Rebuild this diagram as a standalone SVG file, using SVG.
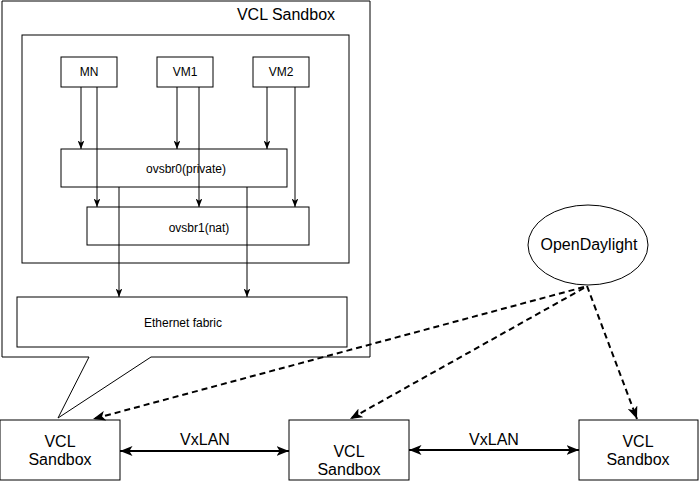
<svg xmlns="http://www.w3.org/2000/svg" width="699" height="490" viewBox="0 0 699 490">
<style>
.box{fill:#fff;stroke:#000;stroke-width:1}
.t{font-family:"Liberation Sans",Arial,sans-serif;fill:#000;text-anchor:middle}
.s12{font-size:12px}
.s16{font-size:16px}
.ln{fill:none;stroke:#000;stroke-width:1}
.bi{fill:none;stroke:#000;stroke-width:2}
.da{fill:none;stroke:#000;stroke-width:2;stroke-dasharray:6 4}
</style>
<defs>
<marker id="a1" viewBox="0 0 10 8" refX="10" refY="4" markerWidth="8.5" markerHeight="6.8" markerUnits="userSpaceOnUse" orient="auto-start-reverse">
<path d="M0,0 L10,4 L0,8 L2.5,4 Z" fill="#000" stroke="none"/>
</marker>
<marker id="a2" viewBox="0 0 10 8" refX="10" refY="4" markerWidth="12.5" markerHeight="10" markerUnits="userSpaceOnUse" orient="auto-start-reverse">
<path d="M0,0 L10,4 L0,8 L2.5,4 Z" fill="#000" stroke="none"/>
</marker>
</defs>
<rect width="699" height="490" fill="#fff"/>
<g id="callout">
<path class="box" d="M2,1 H370 V357 H151 L58,418 L89,357 H2 Z"/>
<text class="t s16" x="286" y="20">VCL Sandbox</text>
</g>
<g id="inner"><rect class="box" x="22" y="35" width="327" height="228"/></g>
<g id="mn"><rect class="box" x="61" y="57" width="56" height="30"/><text class="t s12" x="89" y="76">MN</text></g>
<g id="vm1"><rect class="box" x="157" y="57" width="56" height="30"/><text class="t s12" x="185" y="76">VM1</text></g>
<g id="vm2"><rect class="box" x="253" y="57" width="56" height="30"/><text class="t s12" x="281" y="76">VM2</text></g>
<g id="ovsbr0"><rect class="box" x="61" y="149" width="226" height="38"/><text class="t s12" x="186" y="173">ovsbr0(private)</text></g>
<g id="ovsbr1"><rect class="box" x="87" y="207" width="222" height="38"/><text class="t s12" x="199" y="232">ovsbr1(nat)</text></g>
<g id="eth"><rect class="box" x="17" y="297" width="330" height="50"/><text class="t s12" x="183" y="327">Ethernet fabric</text></g>
<g id="odl"><ellipse class="box" cx="588" cy="245" rx="60" ry="40"/><text class="t s16" x="589" y="250">OpenDaylight</text></g>
<g id="sb1"><rect class="box" x="0" y="420" width="120" height="60"/><text class="t s16" x="60" y="447">VCL</text><text class="t s16" x="60" y="465">Sandbox</text></g>
<g id="sb2"><rect class="box" x="289" y="420" width="120" height="60"/><text class="t s16" x="349" y="457">VCL</text><text class="t s16" x="349" y="475">Sandbox</text></g>
<g id="sb3"><rect class="box" x="579" y="420" width="119" height="60"/><text class="t s16" x="638" y="447">VCL</text><text class="t s16" x="638" y="465">Sandbox</text></g>
<g id="connectors">
<line class="ln" x1="81" y1="87" x2="81" y2="149" marker-end="url(#a1)"/>
<line class="ln" x1="97" y1="87" x2="97" y2="207" marker-end="url(#a1)"/>
<line class="ln" x1="177" y1="87" x2="177" y2="149" marker-end="url(#a1)"/>
<line class="ln" x1="199" y1="87" x2="199" y2="207" marker-end="url(#a1)"/>
<line class="ln" x1="267" y1="87" x2="267" y2="149" marker-end="url(#a1)"/>
<line class="ln" x1="295" y1="87" x2="295" y2="207" marker-end="url(#a1)"/>
<line class="ln" x1="119" y1="187" x2="119" y2="297" marker-end="url(#a1)"/>
<line class="ln" x1="247" y1="187" x2="247" y2="297" marker-end="url(#a1)"/>
<line class="bi" x1="120" y1="451" x2="289" y2="451" marker-start="url(#a2)" marker-end="url(#a2)"/>
<line class="bi" x1="409" y1="450" x2="579" y2="450" marker-start="url(#a2)" marker-end="url(#a2)"/>
<text class="t s16" x="205" y="445">VxLAN</text>
<text class="t s16" x="494" y="445">VxLAN</text>
<line class="da" x1="584" y1="287" x2="93" y2="419" marker-end="url(#a2)"/>
<line class="da" x1="584" y1="288" x2="350" y2="419" marker-end="url(#a2)"/>
<line class="da" x1="587" y1="286" x2="637" y2="419" marker-end="url(#a2)"/>
</g>
</svg>
